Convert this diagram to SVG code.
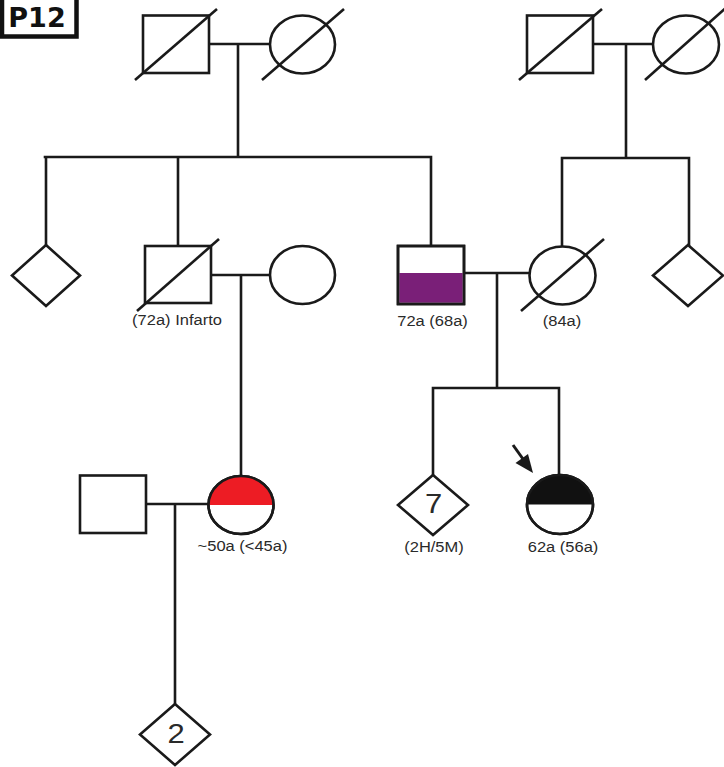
<svg xmlns="http://www.w3.org/2000/svg" width="724" height="767" viewBox="0 0 724 767">
  <style>
    .sym { fill: #ffffff; stroke: #1a1a1a; stroke-width: 2.6; }
    .dead { stroke: #1a1a1a; stroke-width: 2.6; fill: none; }
    .line { stroke: #1a1a1a; stroke-width: 2.6; fill: none; stroke-linecap: square; }
    .lbl { font-family: "Liberation Sans", Arial, sans-serif; font-size: 16.5px; fill: #2a2a2a; text-anchor: middle; }
    .num { font-family: "Liberation Sans", Arial, sans-serif; font-size: 31px; fill: #2a2a2a; text-anchor: middle; }
  </style>
  <rect width="724" height="767" fill="#ffffff"/>

  <!-- panel tag -->
  <g id="tag">
    <rect x="2" y="-5" width="74.5" height="41.5" fill="#ffffff" stroke="#111111" stroke-width="4.5"/>
    <text x="37" y="27" font-family="'DejaVu Sans', Verdana, sans-serif" font-weight="bold" font-size="27" text-anchor="middle" fill="#111111">P12</text>
  </g>

  <!-- lines of descent and marriage -->
  <g id="connectors">
    <!-- left grandparents -->
    <path class="line" d="M209,44 H270 M238,44 V157 M45,157 H431 M46,157 V245 M178,157 V246 M431,157 V246"/>
    <!-- right grandparents -->
    <path class="line" d="M593,44 H653 M626,44 V158 M562,158 H689 M562,158 V246 M689,158 V245"/>
    <!-- generation II couples -->
    <path class="line" d="M211,275 H270 M241,275 V476"/>
    <path class="line" d="M464,273 H529 M497,273 V388 M433,388 H559 M433,388 V475 M559,388 V475"/>
    <!-- generation III couple -->
    <path class="line" d="M146,504 H208 M175,504 V704"/>
    <!-- proband arrow -->
    <line x1="513" y1="445" x2="523" y2="459" stroke="#1a1a1a" stroke-width="3"/>
    <polygon points="533,473 515.5,463 528,454" fill="#1a1a1a"/>
  </g>

  <!-- generation I -->
  <g id="gf-paternal">
    <rect class="sym" x="143" y="15.5" width="66" height="57.5"/>
    <line class="dead" x1="135" y1="80" x2="217" y2="9"/>
  </g>
  <g id="gm-paternal">
    <ellipse class="sym" cx="302.5" cy="44.5" rx="32.5" ry="29"/>
    <line class="dead" x1="262" y1="80" x2="344" y2="9"/>
  </g>
  <g id="gf-maternal">
    <rect class="sym" x="527" y="15.5" width="66" height="57.5"/>
    <line class="dead" x1="519" y1="80" x2="602" y2="9"/>
  </g>
  <g id="gm-maternal">
    <ellipse class="sym" cx="686" cy="44.5" rx="33" ry="29"/>
    <line class="dead" x1="645" y1="80" x2="728" y2="6"/>
  </g>

  <!-- generation II -->
  <g id="sib-left">
    <polygon class="sym" points="46,245 80,275.5 46,306 12,275.5"/>
  </g>
  <g id="uncle">
    <rect class="sym" x="145" y="246" width="66" height="57"/>
    <line class="dead" x1="137" y1="311" x2="219" y2="239"/>
    <g transform="translate(177,325) scale(1,0.87)"><text class="lbl" x="0" y="0">(72a) Infarto</text></g>
  </g>
  <g id="aunt">
    <ellipse class="sym" cx="302.5" cy="275" rx="32.5" ry="29"/>
  </g>
  <g id="father">
    <rect class="sym" x="398" y="246" width="66" height="58"/>
    <rect x="399.3" y="273" width="63.4" height="29.7" fill="#7a1f78"/>
    <rect x="398" y="246" width="66" height="58" fill="none" stroke="#1a1a1a" stroke-width="2.6"/>
    <g transform="translate(432.5,326) scale(1,0.87)"><text class="lbl" x="0" y="0">72a (68a)</text></g>
  </g>
  <g id="mother">
    <ellipse class="sym" cx="562.5" cy="275.5" rx="33" ry="29"/>
    <line class="dead" x1="521" y1="311" x2="604" y2="239"/>
    <g transform="translate(562,326) scale(1,0.87)"><text class="lbl" x="0" y="0">(84a)</text></g>
  </g>
  <g id="sib-right">
    <polygon class="sym" points="688,245 723,275.5 688,306 653,275.5"/>
  </g>

  <!-- generation III -->
  <g id="cousin-spouse">
    <rect class="sym" x="80" y="475.5" width="66" height="57.5"/>
  </g>
  <g id="cousin">
    <ellipse class="sym" cx="241" cy="505" rx="32.5" ry="29"/>
    <path d="M208.5,505 A32.5,29 0 0 1 273.5,505 Z" fill="#ed1c24"/>
    <ellipse cx="241" cy="505" rx="32.5" ry="29" fill="none" stroke="#1a1a1a" stroke-width="2.6"/>
    <g transform="translate(242.5,551) scale(1,0.87)"><text class="lbl" x="0" y="0">~50a (&lt;45a)</text></g>
  </g>
  <g id="siblings">
    <polygon class="sym" points="433,475 468,505 433,535 398,505"/>
    <g transform="translate(433.5,513) scale(1,0.87)"><text class="num" x="0" y="0">7</text></g>
    <g transform="translate(434,552) scale(1,0.87)"><text class="lbl" x="0" y="0">(2H/5M)</text></g>
  </g>
  <g id="proband">
    <ellipse class="sym" cx="560" cy="504.5" rx="33" ry="29.5"/>
    <path d="M527,504.5 A33,29.5 0 0 1 593,504.5 Z" fill="#111111"/>
    <ellipse cx="560" cy="504.5" rx="33" ry="29.5" fill="none" stroke="#1a1a1a" stroke-width="2.6"/>
    <g transform="translate(563,552) scale(1,0.87)"><text class="lbl" x="0" y="0">62a (56a)</text></g>
  </g>

  <!-- generation IV -->
  <g id="children">
    <polygon class="sym" points="175,704 210,734.5 175,765 140,734.5"/>
    <g transform="translate(176,743) scale(1,0.87)"><text class="num" x="0" y="0">2</text></g>
  </g>
</svg>
